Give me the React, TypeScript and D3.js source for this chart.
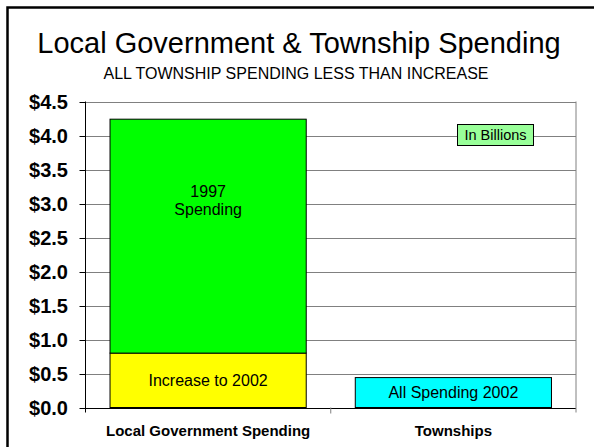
import React from "react";
import * as d3 from "d3";

const categories = ["Local Government Spending", "Townships"];
const increaseTo2002 = [0.8, 0];
const spending1997 = [3.44, 0];
const allSpending2002 = [0, 0.44];
const yTicks = [0, 0.5, 1, 1.5, 2, 2.5, 3, 3.5, 4, 4.5];
const title = "Local Government & Township Spending";
const subtitle = "ALL TOWNSHIP SPENDING LESS THAN INCREASE";
const unitNote = "In Billions";

const seriesKeys = ["increase", "spending1997", "all2002"];
const seriesColors: Record<string, string> = {
  increase: "#ffff00",
  spending1997: "#00ff00",
  all2002: "#00ffff",
};
const seriesLabels: Record<string, string[]> = {
  increase: ["Increase to 2002"],
  spending1997: ["1997", "Spending"],
  all2002: ["All Spending 2002"],
};

const FONT = "'Liberation Sans', Arial, sans-serif";

export default function App() {
  const W = 594;
  const H = 447;
  const left = 85.5;
  const right = 576;
  const top = 101.5;
  const bottom = 407.5;

  const x = d3
    .scaleBand<string>()
    .domain(categories)
    .range([left, right])
    .paddingInner(0.2)
    .paddingOuter(0.1);
  const y = d3.scaleLinear().domain([0, 4.5]).range([bottom, top]);

  const rows = categories.map((c, i) => ({
    cat: c,
    increase: increaseTo2002[i],
    spending1997: spending1997[i],
    all2002: allSpending2002[i],
  }));
  const stacked = d3.stack<any>().keys(seriesKeys)(rows);

  const fmt = (v: number) => "$" + d3.format(".1f")(v);
  const step = x.step();

  return (
    <svg
      width={W}
      height={H}
      style={{ position: "absolute", left: 0, top: 0, background: "#fff" }}
      fontFamily={FONT}
    >
      <rect x={0} y={0} width={W} height={H} fill="#fff" />
      {/* slide frame */}
      <path d={`M7.5,${H} L7.5,7.5 L${W},7.5`} fill="none" stroke="#000" strokeWidth={2.5} />

      <text x={299} y={53} textAnchor="middle" fontSize={29} fill="#000">
        {title}
      </text>
      <text x={296} y={79} textAnchor="middle" fontSize={16} fill="#000">
        {subtitle}
      </text>

      {/* gridlines */}
      {yTicks.map((t) => (
        <line
          key={"g" + t}
          x1={left}
          x2={right}
          y1={Math.round(y(t)) + 0.5}
          y2={Math.round(y(t)) + 0.5}
          stroke={t === 0 ? "#000" : "#808080"}
          strokeWidth={1}
        />
      ))}
      {/* right border */}
      <line x1={right} x2={right} y1={top} y2={bottom + 5} stroke="#808080" />

      {/* bars */}
      {stacked.map((s) =>
        s.map((d, i) => {
          const h = y(d[0]) - y(d[1]);
          if (h <= 0) return null;
          const bx = x(categories[i])!;
          const bw = x.bandwidth();
          const y1 = y(d[1]);
          const lines = seriesLabels[s.key];
          const cy = (y(d[0]) + y(d[1])) / 2;
          const lh = 18;
          const startY = cy - ((lines.length - 1) * lh) / 2 + 5.5;
          return (
            <g key={s.key + i}>
              <rect
                x={bx}
                y={y1}
                width={bw}
                height={h}
                fill={seriesColors[s.key]}
                stroke="#000"
                strokeWidth={1}
              />
              {s.key !== "spending1997" &&
                lines.map((ln, j) => (
                  <text
                    key={j}
                    x={bx + bw / 2}
                    y={startY + j * lh}
                    textAnchor="middle"
                    fontSize={16}
                    fill="#000"
                  >
                    {ln}
                  </text>
                ))}
              {s.key === "spending1997" &&
                lines.map((ln, j) => (
                  <text
                    key={j}
                    x={bx + bw / 2}
                    y={y(3.1) + j * lh}
                    textAnchor="middle"
                    fontSize={16}
                    fill="#000"
                  >
                    {ln}
                  </text>
                ))}
            </g>
          );
        })
      )}

      {/* y axis */}
      <line x1={left} x2={left} y1={top} y2={bottom + 5} stroke="#000" />
      {yTicks.map((t) => (
        <g key={"t" + t}>
          <line
            x1={left - 6}
            x2={left}
            y1={Math.round(y(t)) + 0.5}
            y2={Math.round(y(t)) + 0.5}
            stroke="#000"
          />
          <text
            x={68}
            y={y(t) + 7}
            textAnchor="end"
            fontSize={20}
            fontWeight="bold"
            fill="#000"
          >
            {fmt(t)}
          </text>
        </g>
      ))}

      {/* x ticks */}
      {categories.map((c, i) =>
        i > 0 ? (
          <line
            key={"xt" + c}
            x1={x(c)! - (step - x.bandwidth()) / 2}
            x2={x(c)! - (step - x.bandwidth()) / 2}
            y1={bottom}
            y2={bottom + 6}
            stroke="#808080"
          />
        ) : null
      )}
      {categories.map((c) => (
        <text
          key={"xl" + c}
          x={x(c)! + x.bandwidth() / 2}
          y={436}
          textAnchor="middle"
          fontSize={15}
          fontWeight="bold"
          fill="#000"
        >
          {c}
        </text>
      ))}

      {/* unit note */}
      <rect x={457.5} y={124.5} width={76} height={21} fill="#99ff99" stroke="#000" />
      <text x={495.5} y={140} textAnchor="middle" fontSize={14.5} fill="#000">
        {unitNote}
      </text>
    </svg>
  );
}
